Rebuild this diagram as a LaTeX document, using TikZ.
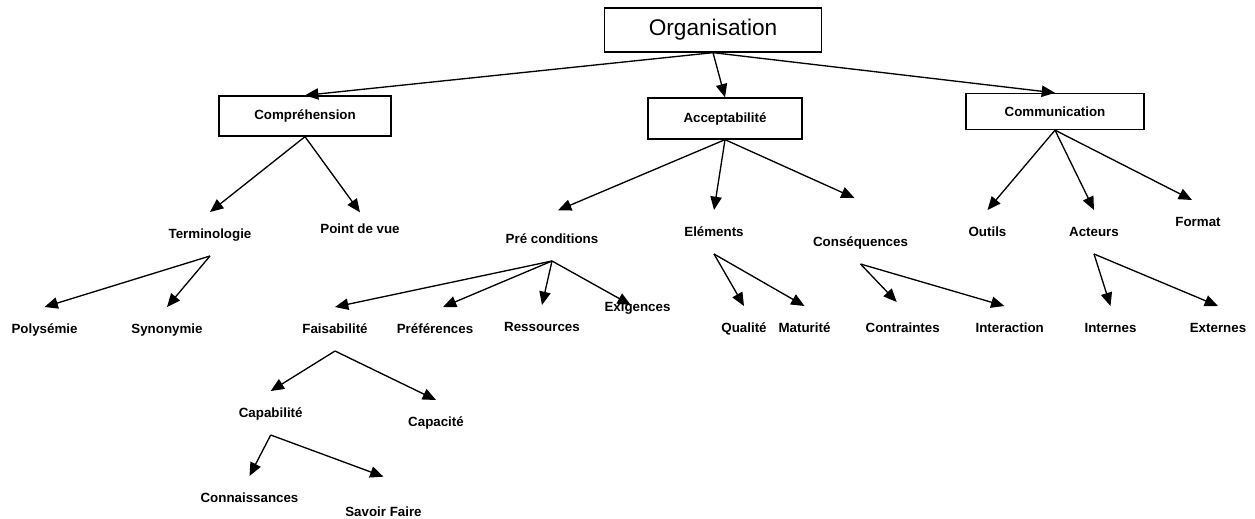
\documentclass[tikz,border=0pt]{standalone}
\usepackage{fontspec}
\setmainfont{Liberation Sans}
\usetikzlibrary{arrows.meta}

\begin{document}
\begin{tikzpicture}[
        x=0.75pt, y=-0.75pt,
        box/.style={rectangle, draw, line width=1pt, inner sep=0pt, font=\bfseries\fontsize{10}{12}\selectfont},
        item/.style={inner sep=0pt, outer ysep=12.5pt, text height=7.5pt, text depth=0.5pt, font=\bfseries\fontsize{10}{12}\selectfont},
        arrow/.style={-{Triangle[length=10pt,width=8.5pt]}, line width=1pt}
    ]
        \useasboundingbox (0,0) rectangle (1255,518);

        \node[box, minimum width=162.75pt, minimum height=33pt, font=\fontsize{17}{20}\selectfont] (org) at (713,30) {Organisation};
        \node[box, minimum width=129pt, minimum height=30pt] (comp) at (305,116) {Compréhension};
        \node[box, minimum width=115.5pt, minimum height=30.75pt] (accept) at (725,118.5) {Acceptabilité};
        \node[box, minimum width=133.5pt, minimum height=27pt] (comm) at (1055,111.5) {Communication};

        \node[item] (term) at (210,234) {Terminologie};
        \node[item] (pdv) at (360,229) {Point de vue};
        \node[item] (poly) at (44.5,329) {Polysémie};
        \node[item] (syno) at (167,329) {Synonymie};

        \node[item] (precond) at (552,239) {Pré conditions};
        \node[item] (elem) at (714,232) {Eléments};
        \node[item] (conseq) at (860.5,242) {Conséquences};
        \node[item] (faisa) at (335,329) {Faisabilité};
        \node[item] (pref) at (435,329) {Préférences};
        \node[item] (ress) at (542,327) {Ressources};
        \node[item] (exig) at (637.5,307) {Exigences};
        \node[item] (qual) at (744,328) {Qualité};
        \node[item] (matu) at (804.5,328) {Maturité};
        \node[item] (contr) at (902.7,328) {Contraintes};
        \node[item] (inter) at (1009.7,328) {Interaction};
        \node[item] (capab) at (270.7,413) {Capabilité};
        \node[item] (capac) at (436,422) {Capacité};
        \node[item] (conn) at (249.5,498) {Connaissances};
        \node[item] (savoir) at (383.5,512) {Savoir Faire};

        \node[item] (outils) at (987.5,232) {Outils};
        \node[item] (acteurs) at (1094,232) {Acteurs};
        \node[item] (format) at (1198,222) {Format};
        \node[item] (internes) at (1110.5,328) {Internes};
        \node[item] (externes) at (1218,328) {Externes};

        \draw[arrow] (org.south) -- (comp.north);
        \draw[arrow] (org.south) -- (accept.north);
        \draw[arrow] (org.south) -- (comm.north);

        \draw[arrow] (comp.south) -- (term.north);
        \draw[arrow] (comp.south) -- ([yshift=-4pt]pdv.north);
        \draw[arrow] (term.south) -- (poly.north);
        \draw[arrow] (term.south) -- (syno.north);

        \draw[arrow] (accept.south) -- ([xshift=4.5pt,yshift=5pt]precond.north);
        \draw[arrow] (accept.south) -- (elem.north);
        \draw[arrow] (accept.south) -- ([xshift=-4.5pt,yshift=16.5pt]conseq.north);
        \draw[arrow] (precond.south) -- (faisa.north);
        \draw[arrow] (precond.south) -- ([xshift=6pt]pref.north);
        \draw[arrow] (precond.south) -- (ress.north);
        \draw[arrow] (precond.south) -- ([xshift=-5pt,yshift=-15pt]exig.north);
        \draw[arrow] (elem.south) -- (qual.north);
        \draw[arrow] (elem.south) -- (matu.north);
        \draw[arrow] (conseq.south) -- ([xshift=-4.5pt,yshift=3pt]contr.north);
        \draw[arrow] (conseq.south) -- ([xshift=-4pt]inter.north);
        \draw[arrow] (faisa.south) -- (capab.north);
        \draw[arrow] (faisa.south) -- (capac.north);
        \draw[arrow] (capab.south) -- (conn.north);
        \draw[arrow] (capab.south) -- ([yshift=10pt]savoir.north);

        \draw[arrow] (comm.south) -- (outils.north);
        \draw[arrow] (comm.south) -- (acteurs.north);
        \draw[arrow] (comm.south) -- ([xshift=-4.5pt]format.north);
        \draw[arrow] (acteurs.south) -- (internes.north);
        \draw[arrow] (acteurs.south) -- (externes.north);
    \end{tikzpicture}
\end{document}
